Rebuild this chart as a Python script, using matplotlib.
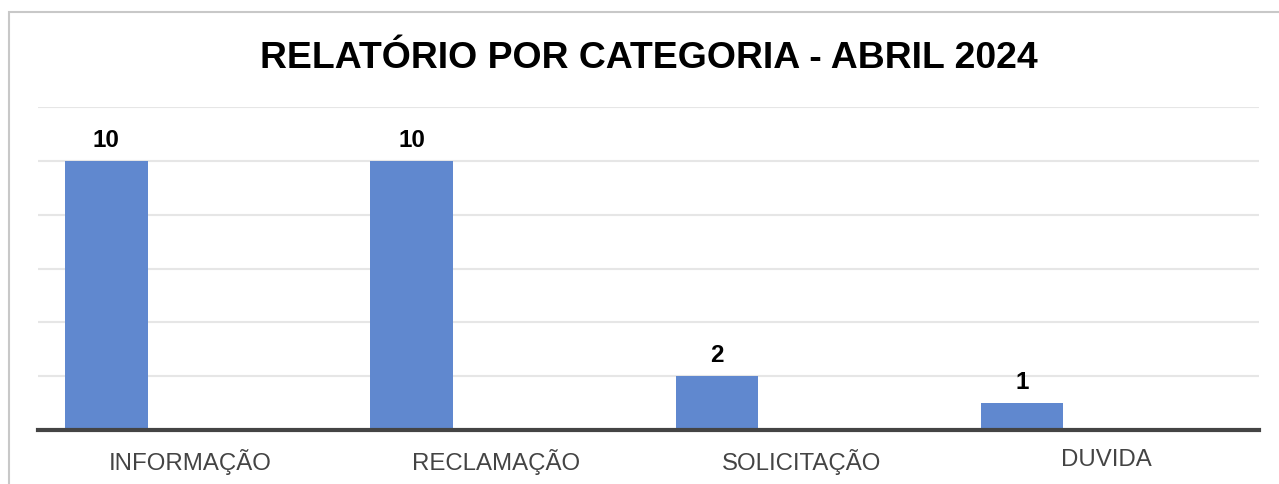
import matplotlib.pyplot as plt
from matplotlib.patches import Rectangle

categories = ['INFORMAÇÃO', 'RECLAMAÇÃO', 'SOLICITAÇÃO', 'DUVIDA']
counts = [10, 10, 2, 1]
title = 'RELATÓRIO POR CATEGORIA - ABRIL 2024'

W, H = 1279, 485
plt.rcParams['font.family'] = ['Liberation Sans', 'DejaVu Sans']

fig = plt.figure(figsize=(W / 100, H / 100), dpi=100)
fig.patch.set_facecolor('white')

# outer frame, cut off on the right and bottom like the screenshot
fig.patches.append(Rectangle((9 / W, -0.1), 1.2, (H - 13) / H + 0.1, transform=fig.transFigure,
                             fill=False, edgecolor='#c8c8c8', linewidth=1.5))

ax = fig.add_axes([38 / W, (H - 431) / H, (1259 - 38) / W, (431 - 108) / H])

x = list(range(len(categories)))
bar_x = [i - 0.276 for i in x]
bars = ax.bar(bar_x, counts, width=0.27, color='#6088cf', zorder=3)
for b, v in zip(bars, counts):
    ax.text(b.get_x() + b.get_width() / 2, v + 0.38, str(v), ha='center', va='bottom',
            fontsize=17.5, fontweight='bold', color='black')

ax.set_xlim(-0.5, len(categories) - 0.5)
ax.set_ylim(0, 12)
ax.set_yticks(range(0, 13, 2))
ax.yaxis.grid(True, color='#e6e6e6', linewidth=1.5)
ax.set_axisbelow(True)
ax.tick_params(axis='y', left=False, labelleft=False)
ax.set_xticks(x)
ax.set_xticklabels(categories, fontsize=17.3, color='#444444')
ax.tick_params(axis='x', length=0, pad=13)
for side in ['top', 'right', 'left']:
    ax.spines[side].set_visible(False)
ax.spines['bottom'].set_color('#444444')
ax.spines['bottom'].set_linewidth(3)
ax.spines['bottom'].set_zorder(4)

fig.text(649 / W, 1 - 58 / H, title, ha='center', va='center', fontsize=26.9, fontweight='bold')

fig.savefig('out.png', dpi=100)
